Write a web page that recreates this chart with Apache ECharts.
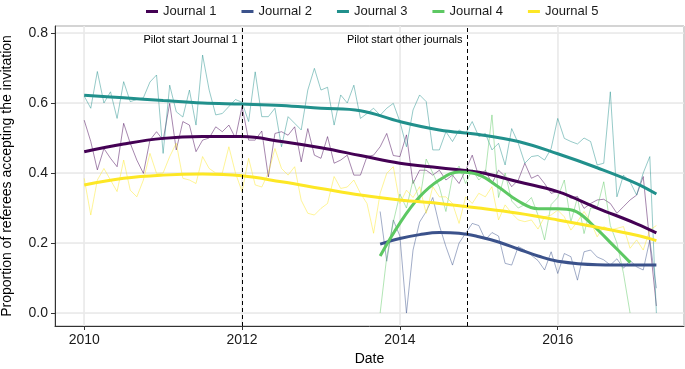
<!DOCTYPE html>
<html>
<head>
<meta charset="utf-8">
<script src="https://cdn.jsdelivr.net/npm/echarts@6/dist/echarts.min.js"></script>
<style>
html, body { margin: 0; padding: 0; background: #fff; }
#chart { width: 685px; height: 369px; }
</style>
</head>
<body>
<div id="chart"></div>
<script>
// monthly acceptance rates, first month = Jan 2010
var startYear = 2010;
var lateStart = 45; // Journal 2 and 4 start Oct 2013

var journalNames = ['Journal 1', 'Journal 2', 'Journal 3', 'Journal 4', 'Journal 5'];
var journalColors = ['#440154', '#3b528b', '#21908c', '#5dc863', '#fde725'];

var journal1 = [0.551, 0.49, 0.409, 0.47, 0.442, 0.418, 0.542, 0.485, 0.437, 0.399, 0.494, 0.518,
    0.494, 0.599, 0.466, 0.547, 0.537, 0.461, 0.494, 0.50, 0.532, 0.518, 0.537, 0.50,
    0.59, 0.494, 0.494, 0.52, 0.389, 0.513, 0.518, 0.508, 0.532, 0.432, 0.527, 0.451,
    0.442, 0.504, 0.428, 0.437, 0.451, 0.394, 0.394, 0.447, 0.451, 0.475, 0.513,
    0.45, 0.447, 0.509, 0.37, 0.408, 0.408, 0.394, 0.408, 0.38, 0.394, 0.37, 0.408,
    0.451, 0.39, 0.408, 0.37, 0.408, 0.39, 0.361, 0.38, 0.428, 0.385,
    0.394, 0.37, 0.342, 0.347, 0.342, 0.328, 0.333, 0.299, 0.313, 0.323, 0.325, 0.313,
    0.285, 0.304, 0.323, 0.337, 0.39, 0.20, 0.02];
var journal2 = [0.29, 0.148, 0.266, 0.22, 0.0, 0.18, 0.26, 0.29, 0.33, 0.25, 0.19, 0.137,
    0.2, 0.228, 0.256, 0.25, 0.209, 0.23, 0.22, 0.142, 0.137, 0.19, 0.18, 0.165,
    0.15, 0.123, 0.175, 0.113, 0.17, 0.161, 0.094, 0.175, 0.18, 0.16, 0.152, 0.137,
    0.155, 0.128, 0.15, 0.132, 0.123, 0.209, 0.071];
var journal3 = [0.62, 0.585, 0.69, 0.60, 0.632, 0.556, 0.661, 0.604, 0.61, 0.615, 0.66, 0.68,
    0.456, 0.651, 0.575, 0.56, 0.637, 0.537, 0.737, 0.637, 0.566, 0.57, 0.59, 0.61,
    0.602, 0.547, 0.689, 0.561, 0.561, 0.585, 0.475, 0.561, 0.542, 0.523, 0.637, 0.699,
    0.637, 0.645, 0.537, 0.623, 0.60, 0.651, 0.556, 0.57, 0.585, 0.565, 0.585,
    0.599, 0.547, 0.475, 0.58, 0.623, 0.604, 0.466, 0.466, 0.518, 0.49, 0.523, 0.513,
    0.547, 0.504, 0.513, 0.466, 0.485, 0.423, 0.527, 0.485, 0.428, 0.447,
    0.45, 0.437, 0.47, 0.556, 0.499, 0.49, 0.483, 0.50, 0.49, 0.423, 0.428, 0.632,
    0.332, 0.394, 0.375, 0.337, 0.40, 0.447, 0.0];
var journal4 = [0.0, 0.16, 0.26, 0.34, 0.30, 0.38, 0.32, 0.44, 0.40, 0.36, 0.29, 0.39,
    0.42, 0.37, 0.41, 0.38, 0.40, 0.566, 0.33, 0.40, 0.32, 0.30, 0.31, 0.33,
    0.28, 0.209, 0.31, 0.33, 0.38, 0.26, 0.33, 0.227, 0.30, 0.30, 0.375, 0.25,
    0.20, 0.113, 0.0];
var journal5 = [0.385, 0.28, 0.38, 0.413, 0.38, 0.347, 0.437, 0.351, 0.332, 0.38, 0.456, 0.399,
    0.40, 0.447, 0.485, 0.385, 0.38, 0.37, 0.447, 0.413, 0.40, 0.40, 0.475, 0.40,
    0.347, 0.442, 0.366, 0.36, 0.40, 0.47, 0.413, 0.394, 0.418, 0.322, 0.285, 0.28,
    0.299, 0.313, 0.39, 0.356, 0.36, 0.38, 0.342, 0.313, 0.228, 0.342, 0.399,
    0.418, 0.313, 0.351, 0.33, 0.361, 0.285, 0.361, 0.332, 0.332, 0.313, 0.256, 0.332,
    0.313, 0.342, 0.332, 0.361, 0.266, 0.309, 0.285, 0.266, 0.261, 0.266,
    0.24, 0.275, 0.28, 0.294, 0.275, 0.237, 0.261, 0.29, 0.261, 0.218, 0.247, 0.237,
    0.242, 0.247, 0.185, 0.209, 0.18, 0.237, 0.25];

// smoothed trend lines
var smoothYears = [2010, 2010.5, 2011, 2011.5, 2012, 2012.5, 2013, 2013.5,
    2014, 2014.5, 2015, 2015.5, 2016, 2016.5, 2017, 2017.25];
var smooth1 = [0.461, 0.483, 0.499, 0.504, 0.504, 0.49, 0.472, 0.45, 0.428, 0.415, 0.402, 0.375, 0.347, 0.30, 0.255, 0.229];
var smooth3 = [0.622, 0.615, 0.607, 0.60, 0.597, 0.593, 0.585, 0.578, 0.547, 0.523, 0.51, 0.49, 0.455, 0.415, 0.37, 0.34];
var smooth5 = [0.366, 0.385, 0.394, 0.397, 0.392, 0.375, 0.356, 0.337, 0.323, 0.313, 0.30, 0.285, 0.266, 0.245, 0.222, 0.207];
var smooth2Years = [2013.75, 2014, 2014.25, 2014.5, 2014.75, 2015, 2015.25, 2015.5, 2015.75, 2016, 2016.5, 2017, 2017.25];
var smooth2 = [0.197, 0.213, 0.224, 0.23, 0.228, 0.218, 0.203, 0.183, 0.163, 0.148, 0.138, 0.137, 0.137];
var smooth4Years = [2013.75, 2014, 2014.25, 2014.5, 2014.75, 2015, 2015.25, 2015.5, 2015.75, 2016, 2016.2, 2016.45, 2016.7, 2016.92];
var smooth4 = [0.163, 0.257, 0.332, 0.38, 0.403, 0.395, 0.36, 0.32, 0.298, 0.298, 0.293, 0.25, 0.194, 0.144];

var pilotYears = [2012, 2014.85];
var pilotLabels = ['Pilot start Journal 1', 'Pilot start other journals'];
var xTicks = [2010, 2012, 2014, 2016];
var yTicks = [0, 0.2, 0.4, 0.6, 0.8];

function monthly(values, offset) {
    return values.map(function(v, i) { return [startYear + (offset + i) / 12, v]; });
}
function pairs(xs, ys) {
    return xs.map(function(x, i) { return [x, ys[i]]; });
}

var raw = [monthly(journal1, 0), monthly(journal2, lateStart), monthly(journal3, 0),
    monthly(journal4, lateStart), monthly(journal5, 0)];
var smooth = [pairs(smoothYears, smooth1), pairs(smooth2Years, smooth2), pairs(smoothYears, smooth3),
    pairs(smooth4Years, smooth4), pairs(smoothYears, smooth5)];

var series = [];
// trend lines first so the legend takes their solid colour
smooth.forEach(function(d, i) {
    series.push({
        name: journalNames[i], type: 'line', data: d, smooth: 0.4,
        showSymbol: false, z: 4, color: journalColors[i],
        lineStyle: { width: 3, color: journalColors[i] }
    });
});
raw.forEach(function(d, i) {
    series.push({
        name: journalNames[i], type: 'line', data: d,
        showSymbol: false, z: 3, color: journalColors[i],
        lineStyle: { width: 0.8, color: journalColors[i], opacity: 0.6 }
    });
});
series.push({
    type: 'line', data: [], z: 5,
    markLine: {
        silent: true, symbol: ['none', 'none'], animation: false,
        label: { show: false },
        lineStyle: { type: [4, 3], color: '#000', width: 1 },
        data: pilotYears.map(function(x) { return { xAxis: x }; })
    },
    markPoint: {
        silent: true, symbol: 'rect', symbolSize: 1, animation: false,
        itemStyle: { color: 'rgba(0,0,0,0)' },
        label: { show: true, position: 'left', distance: 4, color: '#000', fontSize: 11, formatter: '{b}' },
        data: pilotYears.map(function(x, i) { return { name: pilotLabels[i], coord: [x, 0.78] }; })
    }
});

var chart = echarts.init(document.getElementById('chart'));
var xMin = 2009.63, xMax = 2017.6, yMin = -0.037, yMax = 0.82;
var axisDark = { color: '#333', width: 1 };
var option = {
    animation: false,
    textStyle: { fontFamily: 'Liberation Sans, Arial, sans-serif' },
    legend: {
        top: 0, left: 141, icon: 'rect', itemWidth: 12, itemHeight: 3, itemGap: 25,
        textStyle: { fontSize: 13, color: '#1a1a1a' },
        data: journalNames
    },
    grid: { left: 55, right: 1, top: 26, bottom: 43, outerBoundsMode: 'none', containLabel: false,
        show: true, borderColor: '#333', borderWidth: 1 },
    xAxis: [{
        type: 'value', min: xMin, max: xMax, minInterval: 1, maxInterval: 1,
        name: 'Date', nameLocation: 'middle', nameGap: 25,
        nameTextStyle: { fontSize: 14, color: '#000' },
        axisLine: { show: true, onZero: false, lineStyle: axisDark },
        axisTick: { show: true, customValues: xTicks, length: 4, lineStyle: axisDark },
        axisLabel: { customValues: xTicks, fontSize: 14, color: '#1a1a1a', margin: 7,
            formatter: function(v) { return String(v); } },
        splitLine: { lineStyle: { color: '#f2f2f2', width: 0.8 } }
    }, {
        type: 'value', min: xMin, max: xMax, minInterval: 2, maxInterval: 2, position: 'top',
        axisLine: { show: false, onZero: false }, axisTick: { show: false }, axisLabel: { show: false },
        splitLine: { lineStyle: { color: '#e8e8e8', width: 1.5 } }
    }],
    yAxis: [{
        type: 'value', min: yMin, max: yMax, minInterval: 0.1, maxInterval: 0.1,
        name: 'Proportion of referees accepting the invitation', nameLocation: 'middle', nameGap: 41,
        nameTextStyle: { fontSize: 14, color: '#000' },
        axisLine: { show: true, onZero: false, lineStyle: axisDark },
        axisTick: { show: true, customValues: yTicks, length: 4, lineStyle: axisDark },
        axisLabel: { customValues: yTicks, fontSize: 14, color: '#1a1a1a', margin: 7,
            formatter: function(v) { return v.toFixed(1); } },
        splitLine: { lineStyle: { color: '#f2f2f2', width: 0.8 } }
    }, {
        type: 'value', min: yMin, max: yMax, minInterval: 0.2, maxInterval: 0.2, position: 'right',
        axisLine: { show: false, onZero: false }, axisTick: { show: false }, axisLabel: { show: false },
        splitLine: { lineStyle: { color: '#e8e8e8', width: 1.5 } }
    }],
    series: series
};
chart.setOption(option);
</script>
</body>
</html>
